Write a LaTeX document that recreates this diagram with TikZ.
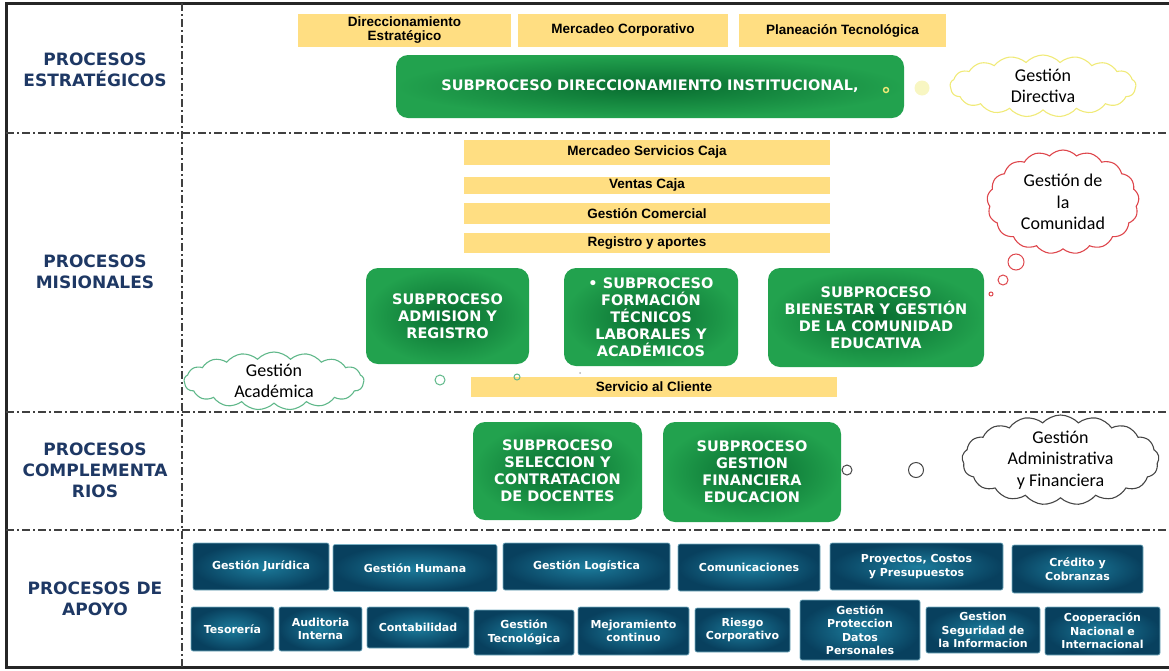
\documentclass[tikz,border=0pt]{standalone}
\usepackage{fontspec}
\setmainfont{Liberation Sans}
\newfontfamily\titulofont{DejaVu Sans}
\newfontfamily\nubefont{Carlito}
\usetikzlibrary{shapes.symbols}

\definecolor{amarilloCaja}{RGB}{255,222,130}
\definecolor{verdeClaro}{RGB}{34,162,78}
\definecolor{verdeOscuro}{RGB}{8,108,48}
\definecolor{azulClaro}{RGB}{28,124,156}
\definecolor{azulOscuro}{RGB}{8,64,94}
\definecolor{azulBorde}{RGB}{120,175,195}
\definecolor{azulTitulo}{RGB}{30,56,100}
\definecolor{nubeAmarilla}{RGB}{240,234,120}
\definecolor{nubeRoja}{RGB}{222,70,76}
\definecolor{nubeVerde}{RGB}{96,184,138}
\definecolor{nubeGris}{RGB}{70,70,70}

\begin{document}
\begin{tikzpicture}[x=1pt, y=-1pt,
	amarillo/.style={fill=amarilloCaja, inner sep=0pt, align=center,
		font=\bfseries\fontsize{13.5}{14}\selectfont},
	verde/.style={rounded corners=12pt, inner color=verdeOscuro, outer color=verdeClaro,
		text=white, inner sep=0pt, align=center,
		font=\titulofont\bfseries\fontsize{14.5}{17}\selectfont},
	azul/.style={rounded corners=2pt, inner color=azulClaro, outer color=azulOscuro,
		draw=azulBorde, line width=0.6pt, text=white, inner sep=0pt, align=center,
		font=\titulofont\bfseries\fontsize{11}{13.5}\selectfont},
	titulo/.style={text=azulTitulo, align=center,
		font=\titulofont\bfseries\fontsize{17}{21}\selectfont},
	nube/.style={cloud, cloud puffs=17, cloud puff arc=95, cloud ignores aspect,
		line width=1.1pt, inner sep=0pt},
	nubetexto/.style={align=center, font=\nubefont\fontsize{18}{21.5}\selectfont},
	burbuja/.style={circle, inner sep=0pt, line width=1pt},
	division/.style={dash pattern=on 8pt off 3pt on 2pt off 3pt, line width=1.3pt, black!75}]
	\useasboundingbox (0,0) rectangle (1169,670);
	% marco y divisiones
	\draw [line width=3pt, black!85] (1169,3) -- (6,3) -- (6,667) -- (1169,667);
	\draw [division] (182,3) -- (182,667);
	\draw [division] (6,133) -- (1169,133);
	\draw [division] (6,412) -- (1169,412);
	\draw [division] (6,530) -- (1169,530);
	% titulos
	\node [titulo] (estrategicos) at (95,70) {PROCESOS\\ESTRATÉGICOS};
	\node [titulo] (misionales) at (95,272) {PROCESOS\\MISIONALES};
	\node [titulo] (complementarios) at (95,470) {PROCESOS\\COMPLEMENTA\\RIOS};
	\node [titulo] (apoyo) at (95,599) {PROCESOS DE\\APOYO};
	% estrategicos
	\node [amarillo, minimum width=213pt, minimum height=33pt] (dirEst) at (404.5,30.5) {Direccionamiento\\Estratégico};
	\node [amarillo, minimum width=210pt, minimum height=33pt] (mercCorp) at (623,30.5) {Mercadeo Corporativo};
	\node [amarillo, minimum width=207pt, minimum height=33pt] (planTec) at (842.5,30.5) {Planeación Tecnológica};
	\node [verde, minimum width=508pt, minimum height=63pt] (dirInst) at (650,86.5) {SUBPROCESO DIRECCIONAMIENTO INSTITUCIONAL,};
	\node [burbuja, draw=nubeAmarilla, line width=1.4pt, minimum size=5pt] (b1) at (886,90) {};
	\node [burbuja, fill=nubeAmarilla!45, minimum size=15pt] (b2) at (922,88) {};
	\node [nube, draw=nubeAmarilla, minimum width=186pt, minimum height=62pt] (nubeDir) at (1043,86) {};
	\node [nubetexto] at (nubeDir) {Gestión\\Directiva};
	% misionales
	\node [amarillo, minimum width=366pt, minimum height=25pt] (mercServ) at (647,152.5) {Mercadeo Servicios Caja};
	\node [amarillo, minimum width=366pt, minimum height=17pt] (ventas) at (647,185.5) {Ventas Caja};
	\node [amarillo, minimum width=366pt, minimum height=21pt] (gestCom) at (647,213.5) {Gestión Comercial};
	\node [amarillo, minimum width=366pt, minimum height=20pt] (registro) at (647,243) {Registro y aportes};
	\node [verde, minimum width=163pt, minimum height=96pt] (admision) at (447.5,316) {SUBPROCESO\\ADMISION Y\\REGISTRO};
	\node [verde, minimum width=174pt, minimum height=98pt] (formacion) at (651,317) {• SUBPROCESO\\FORMACIÓN\\TÉCNICOS\\LABORALES Y\\ACADÉMICOS};
	\node [verde, minimum width=216pt, minimum height=99pt] (bienestar) at (876,317.5) {SUBPROCESO\\BIENESTAR Y GESTIÓN\\DE LA COMUNIDAD\\EDUCATIVA};
	\node [amarillo, minimum width=366pt, minimum height=20pt] (servicio) at (654,387) {Servicio al Cliente};
	\node [burbuja, draw=nubeVerde, minimum size=10pt] (b3) at (440,380) {};
	\node [burbuja, draw=nubeVerde, minimum size=6pt] (b4) at (517,377) {};
	\node [burbuja, fill=black!30, minimum size=2pt] (b5) at (580,373) {};
	\node [nube, draw=nubeVerde, fill=white, minimum width=180pt, minimum height=58pt] (nubeAcad) at (274,381) {};
	\node [nubetexto] at (nubeAcad) {Gestión\\Académica};
	\node [nube, draw=nubeRoja, minimum width=152pt, minimum height=104pt] (nubeCom) at (1063,202) {};
	\node [nubetexto] at (nubeCom) {Gestión de\\la\\Comunidad};
	\node [burbuja, draw=nubeRoja, minimum size=16pt] (b6) at (1016,262) {};
	\node [burbuja, draw=nubeRoja, minimum size=10pt] (b7) at (1003,280) {};
	\node [burbuja, draw=nubeRoja, minimum size=4pt] (b8) at (991,294) {};
	% complementarios
	\node [verde, minimum width=169pt, minimum height=98pt] (seleccion) at (557.5,471) {SUBPROCESO\\SELECCION Y\\CONTRATACION\\DE DOCENTES};
	\node [verde, minimum width=178pt, minimum height=100pt] (financiera) at (752,472) {SUBPROCESO\\GESTION\\FINANCIERA\\EDUCACION};
	\node [burbuja, draw=nubeGris, minimum size=10pt] (b9) at (847,470) {};
	\node [burbuja, draw=nubeGris, minimum size=15pt] (b10) at (916,470) {};
	\node [nube, draw=nubeGris, minimum width=197pt, minimum height=90pt] (nubeAdm) at (1060.5,460) {};
	\node [nubetexto] at (nubeAdm) {Gestión\\Administrativa\\y Financiera};
	% apoyo
	\node [azul, minimum width=136pt, minimum height=47pt] (juridica) at (261,566.5) {Gestión Jurídica};
	\node [azul, minimum width=164pt, minimum height=47pt] (humana) at (415,568) {Gestión Humana};
	\node [azul, minimum width=167pt, minimum height=47pt] (logistica) at (586.5,566.5) {Gestión Logística};
	\node [azul, minimum width=142pt, minimum height=47pt] (comunicaciones) at (749,567.5) {Comunicaciones};
	\node [azul, minimum width=173pt, minimum height=47pt] (proyectos) at (916.5,566.5) {Proyectos, Costos\\y Presupuestos};
	\node [azul, minimum width=131pt, minimum height=48pt] (credito) at (1077.5,569) {Crédito y\\Cobranzas};
	\node [azul, minimum width=83pt, minimum height=44pt] (tesoreria) at (232.5,629) {Tesorería};
	\node [azul, minimum width=83pt, minimum height=44pt] (auditoria) at (320.5,629) {Auditoria\\Interna};
	\node [azul, minimum width=102pt, minimum height=41pt] (contabilidad) at (418,627.5) {Contabilidad};
	\node [azul, minimum width=100pt, minimum height=45pt] (gestTec) at (524,632.5) {Gestión\\Tecnológica};
	\node [azul, minimum width=111pt, minimum height=48pt] (mejoramiento) at (633.5,631) {Mejoramiento\\continuo};
	\node [azul, minimum width=95pt, minimum height=44pt] (riesgo) at (742.5,630) {Riesgo\\Corporativo};
	\node [azul, minimum width=120pt, minimum height=60pt] (proteccion) at (860,630) {Gestión\\Proteccion\\Datos\\Personales};
	\node [azul, minimum width=114pt, minimum height=46pt] (seguridad) at (983,630) {Gestion\\Seguridad de\\la Informacion};
	\node [azul, minimum width=115pt, minimum height=48pt] (cooperacion) at (1102.5,631) {Cooperación\\Nacional e\\Internacional};
\end{tikzpicture}
\end{document}
